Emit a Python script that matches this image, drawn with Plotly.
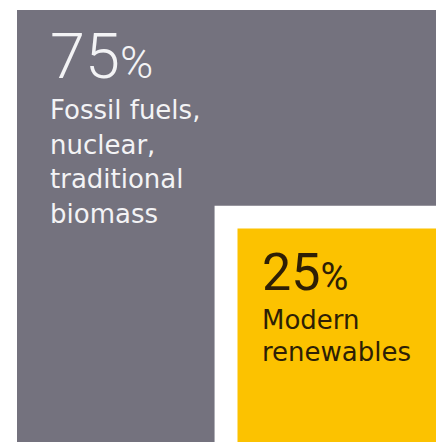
import math
import plotly.graph_objects as go

# ---- data ----
categories = ["Fossil fuels, nuclear, traditional biomass", "Modern renewables"]
shares = [75, 25]
value_labels = ["75", "25"]
label_lines_grey = ["Fossil fuels,", "nuclear,", "traditional", "biomass"]
label_lines_yellow = ["Modern", "renewables"]

# ---- styles ----
GREY = "#74727e"
YELLOW = "#fcc200"
WHITE = "#ffffff"
TEXT_ON_GREY = "#f3f3f5"
TEXT_ON_YELLOW = "#2e1f05"
NUM_FONT = "Roboto, Liberation Sans, Arial, sans-serif"
LBL_FONT = "DejaVu Sans, sans-serif"

total = sum(shares)
outer_side = math.sqrt(total / total)          # whole square (100 %)
inner_side = math.sqrt(shares[1] / total)      # modern renewables square
gap = 0.052                                    # white frame around inner square

ox0, oy0, ox1, oy1 = 0.0, 0.0, outer_side, outer_side
ix0, iy0, ix1, iy1 = outer_side - inner_side, 0.0, outer_side, inner_side

fig = go.Figure()
shapes = [
    dict(type="rect", xref="x", yref="y", x0=ox0, y0=oy0, x1=ox1, y1=oy1,
         fillcolor=GREY, line=dict(width=0), layer="below"),
    dict(type="rect", xref="x", yref="y", x0=ix0 - gap, y0=iy0 - gap, x1=ix1 + gap, y1=iy1 + gap,
         fillcolor=WHITE, line=dict(width=0), layer="below"),
    dict(type="rect", xref="x", yref="y", x0=ix0, y0=iy0, x1=ix1, y1=iy1,
         fillcolor=YELLOW, line=dict(width=0), layer="below"),
]

annotations = []
annotations.append(dict(
    x=ox0, y=oy1, xref="x", yref="y", xanchor="left", yanchor="top",
    xshift=31, yshift=-8, showarrow=False, align="left",
    text=f"{value_labels[0]}<span style='font-size:45px'>%</span>",
    font=dict(family=NUM_FONT, size=63, color=TEXT_ON_GREY, weight=300),
))
for i, line in enumerate(label_lines_grey):
    annotations.append(dict(
        x=ox0, y=oy1, xref="x", yref="y", xanchor="left", yanchor="top",
        xshift=31, yshift=-83 - i * 34.7, showarrow=False, align="left",
        text=line, font=dict(family=LBL_FONT, size=26, color=TEXT_ON_GREY),
    ))
annotations.append(dict(
    x=ix0, y=iy1, xref="x", yref="y", xanchor="left", yanchor="top",
    xshift=22, yshift=-11, showarrow=False, align="left",
    text=f"{value_labels[1]}<span style='font-size:38px'>%</span>",
    font=dict(family=NUM_FONT, size=52, color=TEXT_ON_YELLOW),
))
for i, line in enumerate(label_lines_yellow):
    annotations.append(dict(
        x=ix0, y=iy1, xref="x", yref="y", xanchor="left", yanchor="top",
        xshift=22, yshift=-74.5 - i * 32, showarrow=False, align="left",
        text=line, font=dict(family=LBL_FONT, size=26, color=TEXT_ON_YELLOW),
    ))

px_per_x = 441.0
px_per_y = 437.0
left_px, top_px = 17.0, 10.0
W, H = 436, 442
xr = [-left_px / px_per_x, (W - left_px) / px_per_x]
yr = [1 - (H - top_px) / px_per_y, 1 + top_px / px_per_y]

fig.update_layout(
    width=W, height=H, margin=dict(l=0, r=0, t=0, b=0),
    paper_bgcolor=WHITE, plot_bgcolor=WHITE,
    shapes=shapes, annotations=annotations, showlegend=False,
    xaxis=dict(range=xr, visible=False, fixedrange=True),
    yaxis=dict(range=yr, visible=False, fixedrange=True),
)
fig.write_html("out.html")
